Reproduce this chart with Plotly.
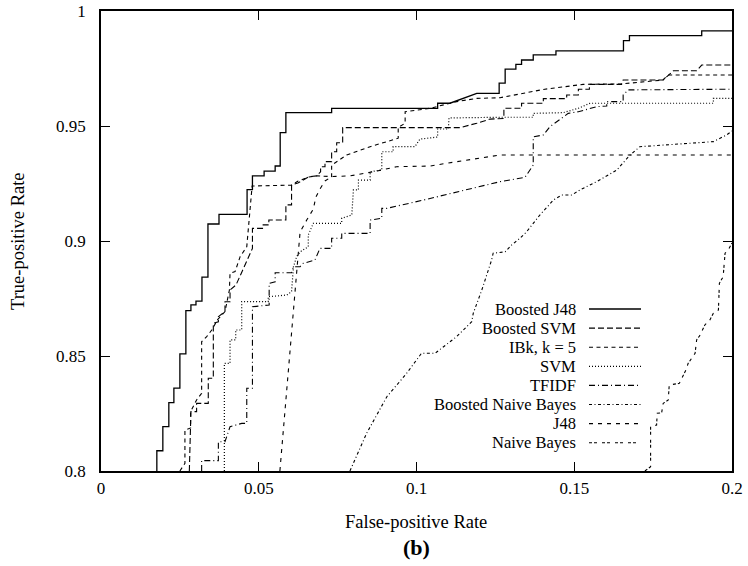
import plotly.graph_objects as go

# ---------------- data (false-positive rate, true-positive rate) ----------------
boosted_j48 = [(0.0177,0.800),(0.0177,0.8088),(0.0196,0.8088),(0.0196,0.8193),(0.0215,0.8193),(0.0215,0.8297),
    (0.0231,0.8297),(0.0231,0.8360),(0.0250,0.8360),(0.0250,0.8509),(0.0269,0.8509),(0.0269,0.8697),
    (0.0285,0.8697),(0.0285,0.8722),(0.0301,0.8722),(0.0301,0.8739),(0.0320,0.8739),(0.0320,0.8843),
    (0.0339,0.8843),(0.0339,0.9074),(0.0374,0.9074),(0.0374,0.9116),(0.0463,0.9116),(0.0463,0.9223),
    (0.0480,0.9223),(0.0480,0.9283),(0.0517,0.9283),(0.0517,0.9304),(0.0552,0.9304),(0.0552,0.9326),
    (0.0568,0.9326),(0.0568,0.9471),(0.0586,0.9471),(0.0586,0.9558),(0.0731,0.9558),(0.0731,0.9577),
    (0.1067,0.9577),(0.1067,0.9599),(0.1106,0.9599),(0.1191,0.9642),(0.1262,0.9642),(0.1262,0.9686),
    (0.1281,0.9686),(0.1281,0.9747),(0.1315,0.9747),(0.1315,0.9768),(0.1333,0.9768),(0.1333,0.9787),
    (0.1370,0.9787),(0.1370,0.9809),(0.1442,0.9809),(0.1442,0.9827),(0.1656,0.9827),(0.1656,0.9871),
    (0.1675,0.9871),(0.1675,0.9893),(0.1904,0.9893),(0.1904,0.9914),(0.2000,0.9914)]

boosted_svm = [(0.0280,0.800),(0.0282,0.8149),(0.0285,0.8258),(0.0303,0.8258),(0.0303,0.8294),(0.0340,0.8294),
    (0.0340,0.8403),(0.0356,0.8403),(0.0356,0.8642),(0.0372,0.8649),(0.0372,0.8671),(0.0393,0.8693),
    (0.0393,0.8736),(0.0409,0.8736),(0.0409,0.8787),(0.0428,0.8809),(0.0462,0.8917),(0.0480,0.8968),
    (0.0480,0.9055),(0.0514,0.9055),(0.0514,0.9070),(0.0532,0.9070),(0.0532,0.9091),(0.0586,0.9091),
    (0.0586,0.9157),(0.0604,0.9157),(0.0604,0.9243),(0.0624,0.9252),(0.0641,0.9265),(0.0660,0.9280),
    (0.0684,0.9283),(0.0696,0.9301),(0.0696,0.9323),(0.0710,0.9323),(0.0710,0.9345),(0.0731,0.9345),
    (0.0731,0.9388),(0.0747,0.9388),(0.0747,0.9427),(0.0766,0.9427),(0.0766,0.9493),(0.1138,0.9493),
    (0.1191,0.9512),(0.1233,0.9530),(0.1277,0.9533),(0.1277,0.9577),(0.1333,0.9577),(0.1333,0.9599),
    (0.1402,0.9599),(0.1402,0.9619),(0.1476,0.9619),(0.1476,0.9635),(0.1513,0.9635),(0.1513,0.9660),
    (0.1548,0.9660),(0.1548,0.9681),(0.1650,0.9681),(0.1655,0.9700),(0.1782,0.9700),(0.1798,0.9722),
    (0.1814,0.9740),(0.1888,0.9740),(0.1904,0.9765),(0.2000,0.9765)]

ibk_k5 = [(0.0250,0.800),(0.0266,0.8033),(0.0266,0.8178),(0.0284,0.8187),(0.0284,0.8258),(0.0303,0.8309),
    (0.0319,0.8338),(0.0319,0.8562),(0.0335,0.8584),(0.0351,0.8613),(0.0369,0.8657),(0.0393,0.8693),
    (0.0407,0.8787),(0.0409,0.8860),(0.0425,0.8867),(0.0441,0.8932),(0.0462,0.8975),(0.0479,0.9239),
    (0.0604,0.9243),(0.0625,0.9261),(0.0659,0.9278),(0.0684,0.9283),(0.0731,0.9280),(0.0731,0.9330),
    (0.0779,0.9374),(0.0853,0.9410),(0.0942,0.9447),(0.0942,0.9494),(0.0964,0.9512),(0.0964,0.9562),
    (0.1043,0.9577),(0.1127,0.9606),(0.1191,0.9620),(0.1265,0.9623),(0.1407,0.9660),(0.1528,0.9681),
    (0.1650,0.9683),(0.1781,0.9700),(0.1797,0.9722),(0.2000,0.9722)]

svm = [(0.0391,0.800),(0.0391,0.8468),(0.0409,0.8468),(0.0409,0.8570),(0.0427,0.8570),(0.0427,0.8613),
    (0.0446,0.8613),(0.0446,0.8736),(0.0530,0.8736),(0.0530,0.8758),(0.0589,0.8765),(0.0604,0.8780),
    (0.0610,0.8888),(0.0620,0.8932),(0.0631,0.8953),(0.0657,0.8975),(0.0657,0.9026),(0.0673,0.9077),
    (0.0763,0.9077),(0.0763,0.9099),(0.0795,0.9113),(0.0800,0.9222),(0.0816,0.9222),(0.0816,0.9265),
    (0.0853,0.9265),(0.0853,0.9301),(0.0890,0.9309),(0.0890,0.9388),(0.0926,0.9388),(0.0926,0.9410),
    (0.0995,0.9410),(0.1011,0.9443),(0.1067,0.9452),(0.1067,0.9487),(0.1101,0.9487),(0.1103,0.9535),
    (0.1265,0.9538),(0.1370,0.9538),(0.1370,0.9555),(0.1465,0.9558),(0.1513,0.9577),(0.1550,0.9599),
    (0.1941,0.9599),(0.1941,0.9620),(0.2000,0.9620)]

tfidf = [(0.0319,0.800),(0.0319,0.8045),(0.0372,0.8045),(0.0372,0.8127),(0.0393,0.8127),(0.0409,0.8193),
    (0.0446,0.8207),(0.0462,0.8207),(0.0462,0.8360),(0.0480,0.8360),(0.0480,0.8714),(0.0533,0.8722),
    (0.0533,0.8816),(0.0552,0.8823),(0.0552,0.8862),(0.0604,0.8862),(0.0610,0.8888),(0.0631,0.8888),
    (0.0641,0.8903),(0.0678,0.8917),(0.0694,0.8968),(0.0731,0.8968),(0.0731,0.9012),(0.0763,0.9012),
    (0.0763,0.9033),(0.0853,0.9033),(0.0853,0.9091),(0.0890,0.9099),(0.0890,0.9142),(0.0906,0.9142),
    (0.1022,0.9178),(0.1127,0.9214),(0.1265,0.9258),(0.1344,0.9277),(0.1370,0.9330),(0.1370,0.9453),
    (0.1402,0.9461),(0.1423,0.9497),(0.1460,0.9533),(0.1481,0.9555),(0.1513,0.9562),(0.1550,0.9577),
    (0.1571,0.9584),(0.1603,0.9587),(0.1603,0.9606),(0.1655,0.9606),(0.1655,0.9635),(0.1671,0.9657),
    (0.2000,0.9660)]

boosted_nb = [(0.0789,0.800),(0.0842,0.8164),(0.0906,0.8323),(0.0969,0.8425),(0.1016,0.8512),(0.1059,0.8512),
    (0.1127,0.8584),(0.1175,0.8649),(0.1180,0.8686),(0.1207,0.8787),(0.1238,0.8917),(0.1243,0.8947),
    (0.1281,0.8953),(0.1302,0.8983),(0.1328,0.9012),(0.1349,0.9040),(0.1391,0.9113),(0.1434,0.9178),
    (0.1460,0.9200),(0.1492,0.9200),(0.1518,0.9222),(0.1571,0.9258),(0.1635,0.9309),(0.1677,0.9374),
    (0.1708,0.9410),(0.1793,0.9417),(0.1941,0.9432),(0.1983,0.9461),(0.2000,0.9478)]

j48 = [(0.0567,0.800),(0.0631,0.9039),(0.0652,0.9091),(0.0673,0.9139),(0.0681,0.9191),(0.0694,0.9226),
    (0.0710,0.9261),(0.0731,0.9280),(0.0789,0.9283),(0.0863,0.9301),(0.0937,0.9323),(0.1043,0.9326),
    (0.1096,0.9338),(0.1233,0.9367),(0.1265,0.9374),(0.2000,0.9374)]

naive_bayes = [(0.1724,0.800),(0.1742,0.8019),(0.1742,0.8193),(0.1761,0.8200),(0.1763,0.8251),(0.1777,0.8253),
    (0.1782,0.8294),(0.1798,0.8309),(0.1801,0.8374),(0.1833,0.8381),(0.1854,0.8439),(0.1861,0.8468),
    (0.1883,0.8512),(0.1888,0.8570),(0.1899,0.8591),(0.1914,0.8635),(0.1930,0.8657),(0.1941,0.8686),
    (0.1957,0.8700),(0.1960,0.8816),(0.1972,0.8845),(0.1978,0.8947),(0.1988,0.8961),(0.2000,0.8991)]

series_names = ["Boosted J48", "Boosted SVM", "IBk, k = 5", "SVM", "TFIDF",
                "Boosted Naive Bayes", "J48", "Naive Bayes"]
series_data = [boosted_j48, boosted_svm, ibk_k5, svm, tfidf, boosted_nb, j48, naive_bayes]
x_ticks = [0, 0.05, 0.1, 0.15, 0.2]
x_tick_labels = ["0", "0.05", "0.1", "0.15", "0.2"]
y_ticks = [0.8, 0.85, 0.9, 0.95, 1.0]
y_tick_labels = ["0.8", "0.85", "0.9", "0.95", "1"]

# ---------------- styles ----------------
dashes = ["solid", "6px,3px", "4px,3.5px", "1px,2px", "6px,3px,1px,3px",
          "3px,2.5px,1px,2.5px", "4px,5px", "3px,2px,3px,5px"]
widths = [1.3, 1.1, 1.1, 1.2, 1.1, 1.1, 1.1, 1.1]
FONT = "Liberation Serif"

W, H = 748, 566
L, R, T, B = 101, 16, 11, 95
PW, PH = W - L - R, H - T - B

def px(xp):
    return (xp - L) / PW

def py(yp):
    return (H - B - yp) / PH

fig = go.Figure()
for name, pts, d, w in zip(series_names, series_data, dashes, widths):
    fig.add_trace(go.Scatter(
        x=[p[0] for p in pts], y=[p[1] for p in pts], mode="lines", name=name,
        line=dict(color="black", width=w, dash=d), showlegend=False))

# manual gnuplot-style key (text right-aligned, sample to the right)
key_top, key_step = 309, 19.1
for i, (name, d, w) in enumerate(zip(series_names, dashes, widths)):
    yc = key_top + i * key_step
    fig.add_annotation(x=px(578), y=py(yc), xref="paper", yref="paper", text=name,
                       showarrow=False, xanchor="right", yanchor="middle",
                       font=dict(family=FONT, size=16.5, color="black"))
    fig.add_shape(type="line", xref="paper", yref="paper", x0=px(589), x1=px(641),
                  y0=py(yc), y1=py(yc), line=dict(color="black", width=w, dash=d))

axis_common = dict(showline=True, linecolor="black", linewidth=1.5, mirror="ticks",
                   ticks="inside", ticklen=9, tickwidth=1, tickcolor="black",
                   showgrid=False, zeroline=False, automargin=False,
                   tickfont=dict(family=FONT, size=17, color="black"))
fig.update_xaxes(range=[0, 0.2], tickvals=x_ticks, ticktext=x_tick_labels,
                 ticklabelstandoff=1, **axis_common)
fig.update_yaxes(range=[0.8, 1.0], tickvals=y_ticks, ticktext=y_tick_labels,
                 ticklabelstandoff=10, **axis_common)

fig.add_annotation(x=px(416), y=py(522), xref="paper", yref="paper", text="False-positive Rate",
                   showarrow=False, xanchor="center", yanchor="middle",
                   font=dict(family=FONT, size=18.5, color="black"))
fig.add_annotation(x=px(18), y=py(241), xref="paper", yref="paper", text="True-positive Rate",
                   showarrow=False, xanchor="center", yanchor="middle", textangle=-90,
                   font=dict(family=FONT, size=18.5, color="black"))
fig.add_annotation(x=px(416), y=py(547), xref="paper", yref="paper", text="<b>(b)</b>",
                   showarrow=False, xanchor="center", yanchor="middle",
                   font=dict(family=FONT, size=22, color="black"))

fig.update_layout(width=W, height=H, margin=dict(l=L, r=R, t=T, b=B),
                  paper_bgcolor="white", plot_bgcolor="white", showlegend=False)

fig.write_html("out.html")
